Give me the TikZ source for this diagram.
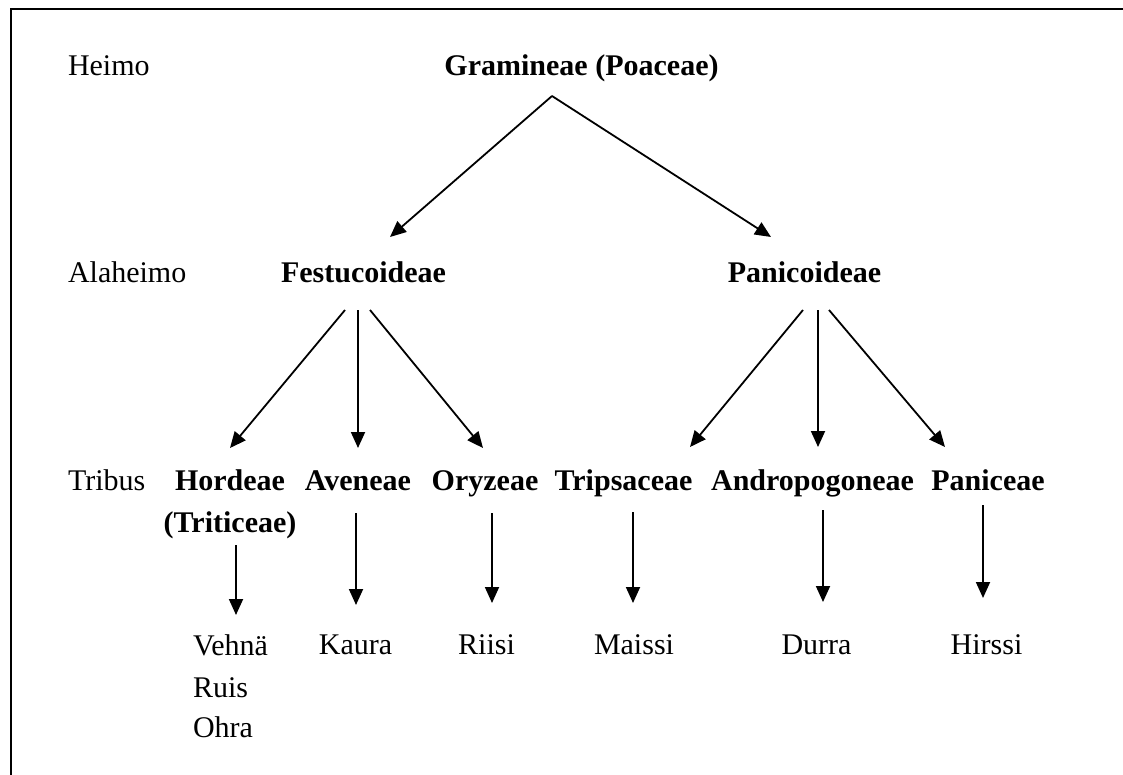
\documentclass[tikz,border=0pt]{standalone}
\usepackage{fontspec}
\setmainfont{Liberation Serif}
\usetikzlibrary{arrows.meta}
\tikzset{rank/.style={inner sep=0pt,outer sep=0pt,anchor=base west,font=\fontsize{30pt}{36pt}\selectfont}}
\tikzset{taxon/.style={rank,anchor=base,font=\fontsize{30pt}{36pt}\selectfont\bfseries}}
\tikzset{plant/.style={rank,anchor=base}}
\tikzset{earrow/.style={-{Triangle[width=14pt,length=16pt]},line width=1.8pt}}

\begin{document}
\begin{tikzpicture}[x=1pt,y=-1pt]
        \useasboundingbox (0,0) rectangle (1123,775);
        % frame
        \draw[line width=2.5pt] (11,775) -- (11,9) -- (1123,9);
        % rank labels
        \node[rank] (heimo) at (68,76) {Heimo};
        \node[rank] (alaheimo) at (68,283) {Alaheimo};
        \node[rank] (tribus) at (68,490) {Tribus};
        % family and subfamilies
        \node[taxon] (gram) at (581.5,76) {Gramineae (Poaceae)};
        \node[taxon] (fest) at (363.5,283) {Festucoideae};
        \node[taxon] (panic) at (804.5,283) {Panicoideae};
        % tribes
        \node[taxon] (hord) at (230,490) {Hordeae};
        \node[taxon] (trit) at (230,532) {(Triticeae)};
        \node[taxon] (aven) at (358,490) {Aveneae};
        \node[taxon] (oryz) at (485,490) {Oryzeae};
        \node[taxon] (trips) at (623.5,490) {Tripsaceae};
        \node[taxon] (andro) at (812.5,490) {Andropogoneae};
        \node[taxon] (panice) at (988,490) {Paniceae};
        % crops
        \node[plant,anchor=base west] (vehna) at (193,655) {Vehnä};
        \node[plant,anchor=base west] (ruis) at (193,697) {Ruis};
        \node[plant,anchor=base west] (ohra) at (193,737) {Ohra};
        \node[plant] (kaura) at (355.5,654) {Kaura};
        \node[plant] (riisi) at (486.5,654) {Riisi};
        \node[plant] (maissi) at (634,654) {Maissi};
        \node[plant] (durra) at (816.5,654) {Durra};
        \node[plant] (hirssi) at (986.5,654) {Hirssi};

        % family -> subfamilies
        \draw[earrow] ([xshift=-29.5pt,yshift=-20pt]gram.base) -- ([xshift=26.5pt,yshift=46pt]fest.base);
        \draw[earrow] ([xshift=-29.5pt,yshift=-20pt]gram.base) -- ([xshift=-33.5pt,yshift=46pt]panic.base);
        % subfamilies -> tribes
        \draw[earrow] ([xshift=-18.5pt,yshift=-27pt]fest.base) -- ([yshift=42pt]hord.base);
        \draw[earrow] ([xshift=-5.5pt,yshift=-27pt]fest.base) -- ([yshift=42pt]aven.base);
        \draw[earrow] ([xshift=6.5pt,yshift=-27pt]fest.base) -- ([xshift=-2pt,yshift=42pt]oryz.base);
        \draw[earrow] ([xshift=-1.5pt,yshift=-27pt]panic.base) -- ([xshift=66.5pt,yshift=43pt]trips.base);
        \draw[earrow] ([xshift=13.5pt,yshift=-27pt]panic.base) -- ([xshift=5.5pt,yshift=43pt]andro.base);
        \draw[earrow] ([xshift=24.5pt,yshift=-27pt]panic.base) -- ([xshift=-43pt,yshift=43pt]panice.base);
        % tribes -> crops
        \draw[earrow] ([xshift=6pt,yshift=-13pt]trit.base) -- ([xshift=43pt,yshift=40pt]vehna.base west);
        \draw[earrow] ([xshift=-2pt,yshift=-23pt]aven.base) -- ([xshift=0.5pt,yshift=49pt]kaura.base);
        \draw[earrow] ([xshift=7pt,yshift=-23pt]oryz.base) -- ([xshift=5.5pt,yshift=51pt]riisi.base);
        \draw[earrow] ([xshift=9.5pt,yshift=-22pt]trips.base) -- ([xshift=-1pt,yshift=51pt]maissi.base);
        \draw[earrow] ([xshift=10.5pt,yshift=-20pt]andro.base) -- ([xshift=6.5pt,yshift=52pt]durra.base);
        \draw[earrow] ([xshift=-5pt,yshift=-15pt]panice.base) -- ([xshift=-3.5pt,yshift=56pt]hirssi.base);
    \end{tikzpicture}
\end{document}
